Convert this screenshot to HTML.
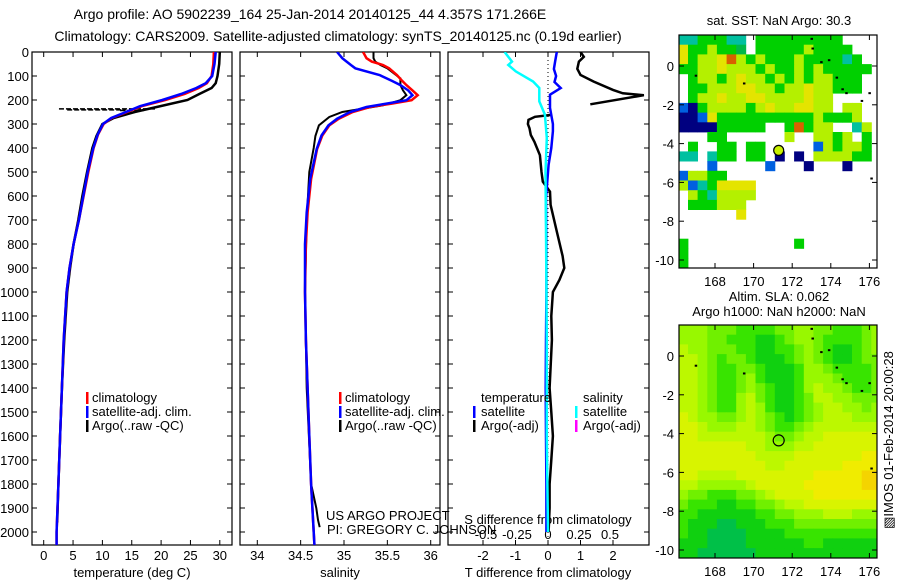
<!DOCTYPE html>
<html><head><meta charset="utf-8"><style>
html,body{margin:0;padding:0;background:#fff;}
svg{display:block;font-family:"Liberation Sans",sans-serif;}
text{font-size:13px;fill:#000;}
</style></head><body>
<svg id="chart" width="900" height="580" viewBox="0 0 900 580" xmlns="http://www.w3.org/2000/svg">
<defs>
<clipPath id="c1"><rect x="32" y="52" width="200" height="493"/></clipPath>
<clipPath id="c2"><rect x="240" y="52" width="200" height="493"/></clipPath>
<clipPath id="c3"><rect x="448" y="52" width="201" height="493"/></clipPath>
</defs>
<text x="310" y="19" text-anchor="middle" style="font-size:14px">Argo profile: AO 5902239_164 25-Jan-2014 20140125_44 4.357S 171.266E</text>
<text x="338" y="41" text-anchor="middle" style="font-size:14px">Climatology: CARS2009. Satellite-adjusted climatology: synTS_20140125.nc (0.19d earlier)</text>
<text x="779" y="25" text-anchor="middle">sat. SST: NaN Argo: 30.3</text>
<text x="779" y="301" text-anchor="middle">Altim. SLA: 0.062</text>
<text x="779" y="316" text-anchor="middle">Argo h1000: NaN h2000: NaN</text>
<g id="layer"></g>
<text transform="translate(893,440) rotate(-90)" text-anchor="middle">&#9639;IMOS 01-Feb-2014 20:00:28</text>
</svg>
<script>
// ---- temperature panel data ----
const depthT = [0,50,100,130,150,175,200,226,254,275,300,344,400,500,600,700,800,900,1000,1200,1400,1600,1800,2000,2060];
const climT = [29.0,28.9,28.6,27.8,26.4,24.0,20.7,16.7,13.8,11.6,10.2,9.25,8.5,7.6,6.8,6.0,5.1,4.4,3.9,3.4,3.1,2.8,2.5,2.2,2.2];
const satT = [29.3,29.1,28.7,27.6,26.0,23.4,20.2,16.4,13.6,11.5,10.1,9.2,8.45,7.5,6.75,6.0,5.1,4.4,3.9,3.4,3.1,2.8,2.5,2.2,2.2];
const argoDepthT = [0,50,100,130,150,175,200,225,250,275,300,350,400,500,600,700,800,900,1000,1200,1400,1600,1800,1960];
const argoT = [30.0,29.9,29.6,29.3,28.6,26.5,24.5,20.0,15.5,11.9,10.0,9.0,8.3,7.4,6.6,5.9,5.1,4.5,4.0,3.5,3.1,2.8,2.5,2.3];
const spikeDepth = [237,241,244];
const spikeLo = [2.6,4.0,13.0];
const spikeHi = [19.0,14.0,17.0];
// ---- salinity panel data ----
const depthS = [0,26,40,54,68,96,120,138,160,180,201,215,229,250,278,306,348,404,529,668,800,1000,1200,1400,1600,1800,2000,2060];
const climS = [35.22,35.26,35.32,35.45,35.52,35.61,35.67,35.72,35.79,35.85,35.78,35.55,35.3,35.1,34.94,34.83,34.75,34.69,34.62,34.58,34.56,34.55,34.56,34.58,34.60,34.62,34.65,34.66];
const satS = [34.92,34.98,35.03,35.08,35.13,35.41,35.55,35.65,35.74,35.79,35.72,35.49,35.26,35.07,34.92,34.82,34.74,34.685,34.61,34.57,34.55,34.55,34.56,34.58,34.60,34.62,34.65,34.66];
const argoDepthS = [0,26,40,54,68,96,110,138,160,180,201,222,250,271,306,350,400,500,700,1000,1400,1800,1900,1950,1980];
const argoS = [35.34,35.34,35.36,35.42,35.5,35.6,35.65,35.65,35.68,35.72,35.65,35.45,34.98,34.83,34.71,34.67,34.65,34.6,34.57,34.55,34.57,34.62,34.68,34.70,34.72];
// ---- difference panel data ----
const diffDepth = [0,40,71,100,125,150,178,233,300,330,400,470,608,800,1000,1200,1400,1600,1800,2000];
const satTdiff = [0.27,0.22,0.18,0.25,0.2,0.39,0.06,0.06,0.15,0.15,0.1,0.02,-0.06,-0.05,-0.05,-0.06,-0.07,-0.06,-0.05,-0.05];
const sdiffDepth = [0,40,54,81,123,150,206,261,358,500,800,1200,1600,2000];
const satSdiff = [-0.35,-0.29,-0.32,-0.26,-0.12,-0.07,-0.07,-0.025,-0.01,-0.02,-0.015,-0.01,-0.01,0];
const argoTdDepth1 = [0,20,40,70,96,123,158,172,180,218];
const argoTdiff1 = [1.0,1.1,0.95,0.9,1.0,1.4,2.0,2.3,2.95,1.3];
const argoTdDepth2 = [262,270,283,300,318,346,374,430,500,540,582,637,748,850,900,950,1000,1100,1200,1400,1500,1600,1700,1800,1900,2000];
const argoTdiff2 = [0.1,-0.4,-0.6,-0.62,-0.57,-0.53,-0.42,-0.25,-0.2,-0.16,0.06,0.08,0.27,0.45,0.5,0.35,0.15,0.1,0.12,0.05,0.1,0.15,0.1,0.05,0.05,0.02];
// ---- axis ticks ----
const depthTicks = [0,100,200,300,400,500,600,700,800,900,1000,1100,1200,1300,1400,1500,1600,1700,1800,1900,2000];
const tempTicks = [0,5,10,15,20,25,30];
const salTicks = [34,34.5,35,35.5,36];
const salTickLabels = ["34","34.5","35","35.5","36"];
const tdTicks = [-2,-1,0,1,2];
const sdTicks = [-0.5,-0.25,0,0.25,0.5];
const sdTickLabels = ["-0.5","-0.25","0","0.25","0.5"];
const lonTicks = [168,170,172,174,176];
const latTicks = [0,-2,-4,-6,-8,-10];
// ---- map data ----
const argoLon = 171.3, argoLat = -4.35;
const sstGrid = [
"ccgggcc.ggggggggg....",
"YggyggG.gggggygggg...",
"YgyyYoygygggyggggcg..",
"ggyyYyyygyggygyggggg.",
".gyygyYyygygygyyggg..",
".ggyyyYYyygyyYyyggg..",
".gyyYyyYYyyyyYyy.....",
"BbgyyyygyYyyYYyy.yy..",
"bbBYggggggggggygggy..",
"bbbbggggg..gogyy..cy.",
"...gg......y..yygy.g.",
".g..gg.gg.....Bygyyg.",
"cc.cgg.gg.b.b.yyyygg.",
"...B.....B...b...b...",
"Byygg................",
"yBcgYYYY.............",
".ygcyyyy.............",
".gggyyy..............",
"......Y..............",
".....................",
".....................",
"g...........g........",
"g....................",
"g...................."];
const slaGrid = [
"555444333344554433345",
"555443332234554333345",
"655444332233454322345",
"665434432223454322344",
"665433443222355433334",
"665433453222355543334",
"665433454322356554334",
"665433564322346655444",
"665433565322345665545",
"765544565432345666555",
"776555665433456666666",
"776666666544566777777",
"777777766555667777777",
"777777776666777777788",
"777777777667777778888",
"776666777777778888899",
"665555567777788888899",
"544333445677778888888",
"433322334456677777777",
"332222223344555666555",
"322211222333444444444",
"322111122223333333333",
"222111122222233222222",
"221111112222222222222"];
const sstColors = {g:"#00d000",G:"#00b848",y:"#b4f000",Y:"#e4e400",o:"#d86000",b:"#000080",B:"#0060e0",c:"#00c0a0"};
const slaColors = ["#00b060","#00c048","#10d010","#38e400","#70f000","#98f800","#bcf800","#d8f400","#f0ec00","#f4d400"];
const islandLon = [173.0,173.05,173.5,173.9,174.3,174.6,174.8,175.6,176.0,167.0,169.5,176.1];
const islandLat = [1.4,0.9,0.2,0.3,-0.6,-1.2,-1.4,-1.8,-1.4,-0.5,-0.9,-5.8];

const NS="http://www.w3.org/2000/svg";
const L=document.getElementById('layer');
function mk(tag,attrs,parent){const e=document.createElementNS(NS,tag);for(const k in attrs)e.setAttribute(k,attrs[k]);(parent||L).appendChild(e);return e;}
const yD=d=>52+d*0.24;
const xT=t=>43.7+t*5.87;
const xS=s=>257.3+(s-34)*86.7;
const xTd=v=>548+v*32.5;
const xSd=v=>548+v*124;
const xLon=l=>715+(l-168)*19.3;
const yLatTop=la=>66-la*19.4;
const yLatBot=la=>356-la*19.4;

function line(xs,ds,fx,color,w,clip,name){
  const pts=xs.map((v,i)=>fx(v).toFixed(1)+","+yD(ds[i]).toFixed(1)).join(" ");
  const p=mk('polyline',{points:pts,fill:'none',stroke:color,'stroke-width':w,'clip-path':'url(#'+clip+')'});
  
  
}
function frame(x0,x1,name){
  const r=mk('rect',{x:x0,y:52,width:x1-x0,height:493,fill:'#fff',stroke:'#000','stroke-width':1.2});
  
  
  depthTicks.forEach(d=>{
    mk('line',{x1:x0,x2:x0+5,y1:yD(d),y2:yD(d),stroke:'#000'});
    mk('line',{x1:x1-5,x2:x1,y1:yD(d),y2:yD(d),stroke:'#000'});
  });
}
function xticks(vals,labels,fx,x0,x1,labelY,name,topTicks){
  vals.forEach((v,i)=>{
    const x=fx(v);
    mk('line',{x1:x,x2:x,y1:545,y2:540,stroke:'#000'});
    if(topTicks) mk('line',{x1:x,x2:x,y1:52,y2:57,stroke:'#000'});
    const t=mk('text',{x:x,y:labelY,'text-anchor':'middle'});
    t.textContent=labels[i];
    
    
  });
}
function label(x,y,txt,name,anchor){
  const t=mk('text',{x:x,y:y,'text-anchor':anchor||'start'});
  t.textContent=txt;
  
  
  return t;
}
function marker(x,y,color,name){
  const r=mk('rect',{x:x,y:y-10,width:2.5,height:12,fill:color});
  
  
}

frame(32,232,'temperature-panel');
frame(240,440,'salinity-panel');
frame(448,649,'difference-panel');
depthTicks.forEach(d=>{
  const t=mk('text',{x:29,y:yD(d)+5,'text-anchor':'end'});
  t.textContent=String(d);
  
  
});
xticks(tempTicks,tempTicks.map(String),xT,32,232,560,'temperature-tick-label',true);
xticks(salTicks,salTickLabels,xS,240,440,560,'salinity-tick-label',true);
xticks(tdTicks,tdTicks.map(String),xTd,448,649,560,'tdiff-tick-label',true);
sdTicks.forEach((v,i)=>{
  const t=mk('text',{x:xSd(v),y:539,'text-anchor':'middle'});
  t.textContent=sdTickLabels[i];
  
  
});
label(132,577,'temperature (deg C)','temperature-axis-title','middle');
label(340,577,'salinity','salinity-axis-title','middle');
label(548,577,'T difference from climatology','tdiff-axis-title','middle');
label(548,524,'S difference from climatology','sdiff-axis-title','middle');

const zl=mk('line',{x1:548,x2:548,y1:52,y2:545,stroke:'#000','stroke-dasharray':'1,3'});



line(argoT,argoDepthT,xT,'#000',2.5,'c1','argo-temperature-line');
spikeDepth.forEach((d,i)=>{
  const s=mk('line',{x1:xT(spikeLo[i]),x2:xT(spikeHi[i]),y1:yD(d),y2:yD(d),stroke:'#000','stroke-width':1.5,'stroke-dasharray':'5,2'});
  
  
});
line(climT,depthT,xT,'#f00',2.5,'c1','climatology-temperature-line');
line(satT,depthT,xT,'#00f',2.5,'c1','satellite-temperature-line');
line(argoS,argoDepthS,xS,'#000',2,'c2','argo-salinity-line');
line(climS,depthS,xS,'#f00',2.5,'c2','climatology-salinity-line');
line(satS,depthS,xS,'#00f',2.5,'c2','satellite-salinity-line');
line(argoTdiff1,argoTdDepth1,xTd,'#000',2.5,'c3','argo-tdiff-line-upper');
line(argoTdiff2,argoTdDepth2,xTd,'#000',2.5,'c3','argo-tdiff-line-lower');
line(satTdiff,diffDepth,xTd,'#00f',2.5,'c3','satellite-tdiff-line');
line(satSdiff,sdiffDepth,xSd,'#0ff',2.5,'c3','satellite-sdiff-line');

marker(86,402,'#f00','legend-climatology-marker');label(92,402,'climatology','legend-climatology');
marker(86,416,'#00f','legend-satellite-marker');label(92,416,'satellite-adj. clim.','legend-satellite');
marker(86,430,'#000','legend-argo-marker');label(92,430,'Argo(..raw -QC)','legend-argo');
marker(339,402,'#f00','legend-climatology-marker');label(345,402,'climatology','legend-climatology');
marker(339,416,'#00f','legend-satellite-marker');label(345,416,'satellite-adj. clim.','legend-satellite');
marker(339,430,'#000','legend-argo-marker');label(345,430,'Argo(..raw -QC)','legend-argo');
label(481,402,'temperature','legend-temperature-heading');
label(583,402,'salinity','legend-salinity-heading');
marker(473,416,'#00f','legend-t-satellite-marker');label(481,416,'satellite','legend-t-satellite');
marker(473,430,'#000','legend-t-argo-marker');label(481,430,'Argo(-adj)','legend-t-argo');
marker(575,416,'#0ff','legend-s-satellite-marker');label(583,416,'satellite','legend-s-satellite');
marker(575,430,'#f0f','legend-s-argo-marker');label(583,430,'Argo(-adj)','legend-s-argo');
label(326,520,'US ARGO PROJECT','credit-project');
label(327,534,'PI: GREGORY C. JOHNSON','credit-pi');

function drawMap(grid,colorFn,yLat,top,name){
  const g=mk('g',{});
  
  
  mk('rect',{x:679,y:top,width:198,height:233,fill:'#fff'},g);
  grid.forEach((row,i)=>{
    for(let j=0;j<row.length;j++){
      const c=colorFn(row[j]);
      if(!c)continue;
      const lon0=166.1+0.5*j, lat0=1.6-0.5*i;
      const x0=Math.max(679,xLon(lon0)), x1=Math.min(877,xLon(lon0+0.5));
      const y0=yLat(lat0), y1=Math.min(top+233,yLat(lat0-0.5));
      const r=mk('rect',{x:x0.toFixed(1),y:y0.toFixed(1),width:(x1-x0+0.4).toFixed(1),height:(y1-y0+0.4).toFixed(1),fill:c},g);
      
      
    }
  });
  islandLon.forEach((lo,i)=>{
    const r=mk('rect',{x:xLon(lo)-1,y:yLat(islandLat[i])-1,width:2.5,height:2,fill:'#000'},g);
    
    
  });
  mk('rect',{x:679,y:top,width:198,height:233,fill:'none',stroke:'#000','stroke-width':1.2},g);
  lonTicks.forEach(l=>{
    mk('line',{x1:xLon(l),x2:xLon(l),y1:top,y2:top+5,stroke:'#000'},g);
    mk('line',{x1:xLon(l),x2:xLon(l),y1:top+233,y2:top+228,stroke:'#000'},g);
    const t=mk('text',{x:xLon(l),y:top+251,'text-anchor':'middle'},g);
    t.textContent=String(l);
    
    
  });
  latTicks.forEach(la=>{
    mk('line',{x1:679,x2:684,y1:yLat(la),y2:yLat(la),stroke:'#000'},g);
    mk('line',{x1:872,x2:877,y1:yLat(la),y2:yLat(la),stroke:'#000'},g);
    const t=mk('text',{x:674,y:yLat(la)+5,'text-anchor':'end'},g);
    t.textContent=String(la);
    
    
  });
  return g;
}
const g1=drawMap(sstGrid,ch=>sstColors[ch]||null,yLatTop,35,'sst-map');
const m1=mk('circle',{cx:xLon(argoLon),cy:yLatTop(argoLat),r:5,fill:'#c8f000',stroke:'#000','stroke-width':1.2},g1);


const g2=drawMap(slaGrid,ch=>slaColors[+ch],yLatBot,325,'sla-map');
const m2=mk('circle',{cx:xLon(argoLon),cy:yLatBot(argoLat),r:5.5,fill:'none',stroke:'#000','stroke-width':1.2},g2);


</script>
</body></html>
